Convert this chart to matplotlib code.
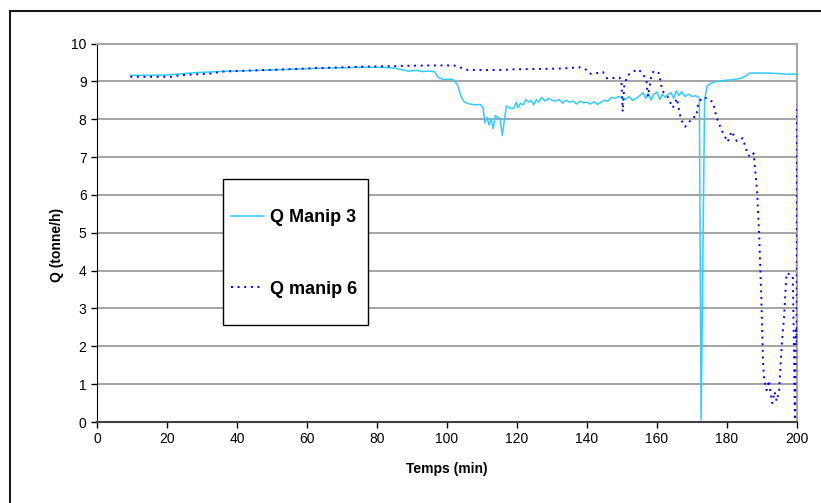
import matplotlib
matplotlib.use("Agg")
import matplotlib.pyplot as plt
from matplotlib.patches import Rectangle

plt.rcParams['font.family'] = ['Liberation Sans', 'DejaVu Sans']

# Q Manip 3 (solid cyan)
t3 = [9.5, 15, 20, 24, 28, 35, 42, 50, 58, 66, 75, 82, 85, 87, 89, 91, 93, 95,
      96.5, 97.5, 99, 101, 102, 103, 104, 105, 106.5, 108, 109.5, 110.3, 110.8,
      111.4, 112, 112.6, 113.2, 113.8, 114.5, 115.2, 115.8, 116.5, 117, 117.8,
      118.5, 119.2, 119.8, 120.3, 121, 121.8, 122.5, 123.3, 124, 124.8, 125.5,
      126.2, 127, 128, 129, 130, 131, 132, 133, 134, 135, 136, 137, 138, 139,
      140, 141, 142, 143, 144, 145, 146, 147, 148, 149, 150, 151, 152, 153, 154,
      155, 156, 156.8, 157.5, 158.3, 159, 160, 160.8, 161.5, 162.3, 163, 164,
      164.8, 165.5, 166.3, 167, 168, 169, 170, 171, 171.8, 172.1, 172.6, 173.6,
      174.3, 175.5, 177, 179, 182, 184, 185.5, 186.5, 190, 194, 197, 200]
q3 = [9.16, 9.16, 9.17, 9.20, 9.23, 9.26, 9.28, 9.30, 9.33, 9.35, 9.37, 9.37,
      9.35, 9.31, 9.27, 9.29, 9.26, 9.27, 9.25, 9.10, 9.05, 9.06, 9.03, 8.90,
      8.60, 8.45, 8.40, 8.38, 8.39, 8.30, 7.90, 8.05, 7.85, 8.00, 7.75, 8.10,
      8.05, 8.00, 7.57, 8.05, 8.35, 8.30, 8.28, 8.30, 8.45, 8.30, 8.42, 8.38,
      8.52, 8.45, 8.50, 8.38, 8.52, 8.45, 8.58, 8.48, 8.55, 8.50, 8.48, 8.52,
      8.43, 8.50, 8.45, 8.48, 8.40, 8.48, 8.43, 8.45, 8.40, 8.46, 8.39, 8.45,
      8.50, 8.48, 8.58, 8.55, 8.60, 8.56, 8.52, 8.60, 8.50, 8.55, 8.62, 8.70,
      8.55, 8.68, 8.50, 8.65, 8.72, 8.52, 8.66, 8.58, 8.65, 8.70, 8.55, 8.75,
      8.62, 8.73, 8.60, 8.66, 8.60, 8.62, 8.58, 8.55, 0.05, 8.50, 8.88, 8.95,
      9.00, 9.02, 9.05, 9.08, 9.15, 9.22, 9.22, 9.21, 9.19, 9.19]

# Q manip 6 (dotted blue)
t6 = [9.5, 15, 21, 23.5, 27, 32, 36, 45, 55, 62, 70, 77, 84, 88, 95, 102, 104,
      106, 115, 120, 128, 133, 138, 140, 141, 143, 144.5, 145.7, 149.2, 149.8,
      150.2, 150.6, 151.5, 153, 154.6, 156, 157, 157.4, 158.5, 159.2, 160.5,
      161.5, 163, 164.5, 165.7, 166.8, 168, 169, 170.3, 171.2, 171.8, 173,
      174.3, 176, 177, 178.5, 180.2, 181.3, 182.8, 184.5, 186, 187, 187.6,
      188.6, 189.2, 189.8, 190.3, 190.6, 191.3, 192, 192.4, 192.9, 193.6,
      194.2, 194.9, 195.6, 196.3, 197, 198, 198.8, 199.1, 199.4, 199.7, 199.9,
      200]
q6 = [9.12, 9.12, 9.12, 9.16, 9.18, 9.20, 9.26, 9.29, 9.32, 9.35, 9.37, 9.39,
      9.40, 9.41, 9.42, 9.42, 9.36, 9.30, 9.30, 9.32, 9.33, 9.34, 9.37, 9.30,
      9.20, 9.22, 9.25, 9.08, 9.10, 9.05, 8.20, 8.85, 9.15, 9.25, 9.32, 9.20,
      9.00, 8.60, 9.20, 9.28, 9.22, 8.75, 8.60, 8.30, 8.55, 8.00, 7.80, 7.90,
      8.06, 8.06, 8.42, 8.58, 8.55, 8.45, 8.05, 7.70, 7.40, 7.68, 7.42, 7.50,
      7.05, 7.00, 7.10, 6.10, 4.90, 3.30, 1.55, 1.15, 0.84, 1.10, 0.80, 0.50,
      0.80, 0.55, 0.84, 1.99, 2.78, 3.93, 3.90, 3.86, 2.10, 0.05, 2.50, 2.10,
      8.40]

xticks = list(range(0, 201, 20))
yticks = list(range(0, 11))

fig = plt.figure(figsize=(8.21, 5.03), dpi=100)
ax = fig.add_axes([97 / 821, 1 - 422 / 503, 700 / 821, 378.5 / 503])

l3, = ax.plot(t3, q3, color='#33CCFF', lw=1.1, label='Q Manip 3', zorder=3)
l6, = ax.plot(t6, q6, color='#0000FF', lw=1.4, linestyle=(0, (1.0, 2.4)),
              label='Q manip 6', zorder=3)

ax.set_xlim(0, 200)
ax.set_ylim(0, 10)
ax.set_xticks(xticks)
ax.set_yticks(yticks)
ax.tick_params(direction='out', length=4, width=1, labelsize=10, colors='black')
ax.yaxis.grid(True, color='#8c8c8c', lw=1.1)
ax.set_axisbelow(True)

for s in ['top', 'right']:
    ax.spines[s].set_color('#a6a6a6')
    ax.spines[s].set_linewidth(1.5)
ax.spines['left'].set_color('black')
ax.spines['bottom'].set_color('#404040')
ax.spines['bottom'].set_linewidth(1.5)

ax.set_xlabel('Temps (min)', fontsize=10, fontweight='bold')
ax.set_ylabel('Q (tonne/h)', fontsize=10, fontweight='bold')
ax.xaxis.set_label_coords(0.5, -0.106)
ax.yaxis.set_label_coords(-0.047, 0.468)

# legend box
W, H = 821, 503
fig.patches.append(Rectangle((223 / W, 1 - 325 / H), 145 / W, 146 / H,
                             transform=fig.transFigure, facecolor='white',
                             edgecolor='black', lw=1, zorder=3))
leg = fig.legend(handles=[l3, l6], loc='upper left',
                 bbox_to_anchor=(231 / W, 1 - 209 / H), frameon=False,
                 borderpad=0, borderaxespad=0, handlelength=1.85,
                 handletextpad=0.3, labelspacing=3.02,
                 prop={'size': 13, 'weight': 'bold'})
leg.set_zorder(4)

# outer chart frame
fig.patches.append(Rectangle((9.5 / W, -0.5), 2, 1.5 - 10.5 / H,
                             transform=fig.transFigure, fill=False,
                             edgecolor='#1a1a1a', lw=1.5, zorder=5))

fig.savefig('out.png', dpi=100)
